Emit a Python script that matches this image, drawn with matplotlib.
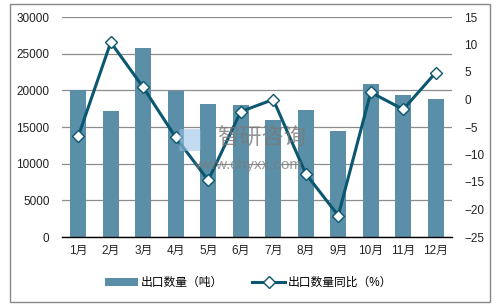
import matplotlib
matplotlib.use("Agg")
import matplotlib.pyplot as plt
from matplotlib.patches import Rectangle, FancyBboxPatch

plt.rcParams['font.family'] = ['Liberation Sans', 'Noto Sans CJK SC', 'DejaVu Sans']

months = ["1月", "2月", "3月", "4月", "5月", "6月", "7月", "8月", "9月", "10月", "11月", "12月"]
export_qty = [20000, 17200, 25800, 19950, 18100, 18000, 15950, 17300, 14450, 20850, 19400, 18800]
yoy_pct = [-6.7, 10.4, 2.2, -6.9, -14.7, -2.2, 0.0, -13.5, -21.1, 1.3, -1.8, 4.9]
left_ticks = [0, 5000, 10000, 15000, 20000, 25000, 30000]
right_ticks = [-25, -20, -15, -10, -5, 0, 5, 10, 15]

bar_color = "#5B8FA8"
line_color = "#0B5770"

fig = plt.figure(figsize=(4.97, 3.06), dpi=100)
fig.patches.append(Rectangle((10/497, 4/306), 480/497, 298/306, transform=fig.transFigure,
                             fill=False, edgecolor="#888888", linewidth=1.0))

ax = fig.add_axes([62/497, 69/306, 390/497, 220/306])
x = list(range(len(months)))
bars = ax.bar(x, export_qty, width=0.5, color=bar_color, zorder=2, label="出口数量（吨）")
ax.set_ylim(0, 30000)
ax.set_yticks(left_ticks)
ax.set_xlim(-0.5, 11.5)
ax.set_xticks(x)
ax.set_xticklabels(months)
ax.grid(axis='y', color="#8c8c8c", linewidth=0.9, zorder=0)
for s in ["left", "right", "top"]:
    ax.spines[s].set_visible(False)
ax.spines["bottom"].set_color("#000000")
ax.spines["bottom"].set_linewidth(1.0)
ax.tick_params(axis='both', length=0, labelsize=8.5, colors="#222222", pad=6)
ax.tick_params(axis='y', pad=9)

ax2 = ax.twinx()
ln, = ax2.plot(x, yoy_pct, color=line_color, linewidth=2.2, marker='D', markersize=6,
               markerfacecolor='white', markeredgecolor=line_color, markeredgewidth=1.0,
               zorder=5, label="出口数量同比（%）")
ax2.set_ylim(-25, 15)
ax2.set_yticks(right_ticks)
for s in ["left", "right", "top", "bottom"]:
    ax2.spines[s].set_visible(False)
ax2.tick_params(axis='y', length=0, labelsize=8.5, colors="#222222", pad=9)

# watermark
fig.patches.append(FancyBboxPatch((181/497, 1 - 150/306), 18/497, 20/306,
                                  boxstyle="round,pad=0.003", transform=fig.transFigure,
                                  facecolor="#9cc3e6", edgecolor="none", alpha=0.6, zorder=10))
fig.text(262/497, 1 - 139/306, "智研咨询", fontsize=16, color="#7a7a7a", alpha=0.8,
         ha='center', va='center', zorder=11)
fig.text(248/497, 1 - 165/306, "www.chyxx.com", fontsize=11, color="#7a7a7a", alpha=0.75,
         ha='center', va='center', zorder=11)

fig.legend(handles=[bars, ln], labels=["出口数量（吨）", "出口数量同比（%）"],
           loc='center', bbox_to_anchor=(0.5, 23/306), ncol=2, frameon=False,
           fontsize=8.5, handlelength=2.8, columnspacing=2.5, handletextpad=0.2)

fig.savefig("out.png", dpi=100)
